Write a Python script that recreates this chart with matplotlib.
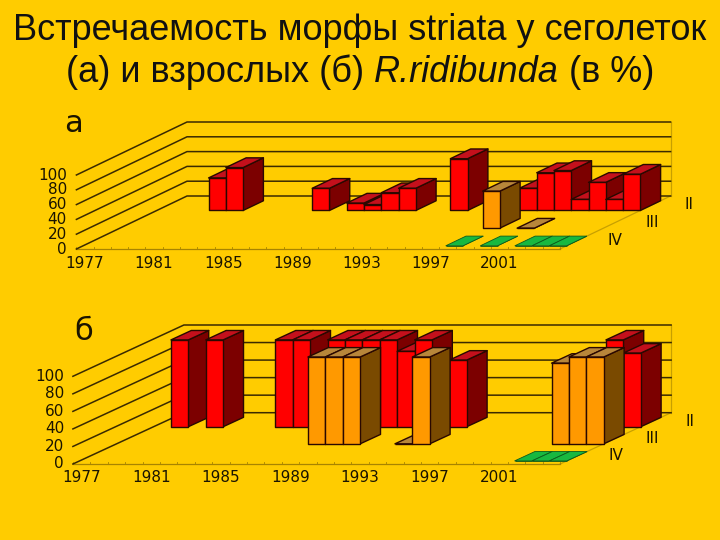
import matplotlib
matplotlib.use("Agg")
import matplotlib.pyplot as plt
from matplotlib.patches import Polygon

plt.rcParams['font.family'] = ['Liberation Sans', 'DejaVu Sans']

# categories
years = list(range(1977, 2005))
year_labels = ['1977', '1981', '1985', '1989', '1993', '1997', '2001']
value_ticks = [0, 20, 40, 60, 80, 100]
rows = ['IV', 'III', 'II']

# values as {position in years: percent}, 0 = flat bar
a_IV = {21: 0, 23: 0, 25: 0, 26: 0, 27: 0}
a_III = {21: 50, 23: 0}
a_II = {3: 44, 4: 58, 9: 30, 11: 10, 12: 8, 13: 24, 14: 30, 17: 70,
        21: 30, 22: 51, 23: 54, 24: 15, 25: 38, 26: 15, 27: 49}

b_IV = {25: 0, 26: 0, 27: 0}
b_III = {11: 99, 12: 99, 13: 99, 16: 0, 17: 99, 25: 92, 26: 99, 27: 99}
b_II = {1: 99, 3: 99, 7: 99, 8: 99, 10: 99, 11: 99, 12: 99, 13: 99, 14: 86,
        15: 99, 17: 76, 26: 99, 27: 84}

# front, top, side
colors = {
    'II': ('#ff0000', '#c4101c', '#7c0000'),
    'III': ('#ff9900', '#b8863a', '#7a4a00'),
    'IV': ('#22b83c', '#18b840', '#0f7a28'),
}

BG = '#ffcc00'
BAR_START = 0.18
BAR_DEPTH = 0.55
TICK_FONT = dict(family='DejaVu Sans', fontsize=11, color='#1a1400')


class Panel:
    def __init__(self, ox, oy, x_step, dx, dy, h100):
        self.ox, self.oy = ox, oy
        self.x_step = x_step
        self.dx, self.dy = dx, dy
        self.h100 = h100

    # x in categories, d in rows (0-3), v in percent
    def pt(self, x, d, v):
        px = self.ox + x * self.x_step + d / 3 * self.dx
        py = self.oy + d / 3 * self.dy - v / 100 * self.h100
        return px, py


def draw_bar(ax, p, i, row, v):
    front, top, side = colors[rows[row]]
    d0 = row + BAR_START
    d1 = d0 + BAR_DEPTH
    edge = dict(edgecolor='#2a0800', linewidth=1.0, joinstyle='round')
    if v == 0 and rows[row] == 'IV':
        edge = dict(edgecolor='#0c5a1c', linewidth=0.6)
    ax.add_patch(Polygon([p.pt(i + 1, d0, 0), p.pt(i + 1, d1, 0),
                          p.pt(i + 1, d1, v), p.pt(i + 1, d0, v)],
                         facecolor=side, **edge))
    ax.add_patch(Polygon([p.pt(i, d0, v), p.pt(i + 1, d0, v),
                          p.pt(i + 1, d1, v), p.pt(i, d1, v)],
                         facecolor=top, **edge))
    ax.add_patch(Polygon([p.pt(i, d0, 0), p.pt(i + 1, d0, 0),
                          p.pt(i + 1, d0, v), p.pt(i, d0, v)],
                         facecolor=front, **edge))


def draw_panel(ax, p, series, letter, letter_xy, xlab_y, ylab_x):
    n = len(years)
    wall = '#3a2a00'
    floor = '#c8a000'
    # floor edges and front axis, kept under the bars
    ax.plot(*zip(p.pt(n, 0, 0), p.pt(n, 3, 0)), color=floor, lw=0.9, zorder=0)
    ax.plot(*zip(p.pt(n, 3, 0), p.pt(n, 3, 100)), color=floor, lw=0.9, zorder=0)
    ax.plot(*zip(p.pt(0, 0, 0), p.pt(n, 0, 0)), color='#a88400', lw=0.9, zorder=0)
    for i in range(n + 1):
        x0, y0 = p.pt(i, 0, 0)
        ax.plot([x0, x0], [y0, y0 - 2], color='#a88400', lw=0.6, zorder=0)
    # wall grid
    for v in value_ticks:
        ax.plot(*zip(p.pt(0, 0, v), p.pt(0, 3, v), p.pt(n, 3, v)),
                color=wall, lw=1.1, zorder=0)
        x0, y0 = p.pt(0, 0, v)
        ax.text(ylab_x, y0, str(v), ha='right', va='center', **TICK_FONT)
    # year labels
    for lab in year_labels:
        i = years.index(int(lab))
        x0, _ = p.pt(i + 0.5, 0, 0)
        ax.text(x0, xlab_y, lab, ha='center', va='center', **TICK_FONT)
    # bars, back row first
    for row in [2, 1, 0]:
        vals = series[row]
        for i in sorted(vals):
            draw_bar(ax, p, i, row, vals[i])
    # row labels
    for row, name in enumerate(rows):
        x0, y0 = p.pt(n, row + 0.5, 0)
        ax.text(x0 + 37, y0, name, ha='center', va='center', **TICK_FONT)
    ax.text(letter_xy[0], letter_xy[1], letter, ha='center', va='center',
            family='DejaVu Sans', fontsize=22, color='#1a1400')


fig = plt.figure(figsize=(7.2, 5.4), dpi=100, facecolor=BG)
ax = fig.add_axes([0, 0, 1, 1])
ax.set_xlim(0, 720)
ax.set_ylim(540, 0)
ax.axis('off')

ax.text(360, 30, 'Встречаемость морфы striata у сеголеток', ha='center',
        va='center', fontsize=26, color='#111111')

# second title line has an italic part, so it is laid out piece by piece
title_parts = [('(а) и взрослых (б) ', 'normal'), ('R.ridibunda', 'italic'), (' (в %)', 'normal')]
renderer = fig.canvas.get_renderer()
pieces = []
for s, style in title_parts:
    # spaces at the ends are not measured, so pad with a dot and take it off
    t = ax.text(0, 72, s, va='center', ha='left', fontsize=26, style=style,
                color='#111111')
    probe = ax.text(0, 72, s + '.', fontsize=26, style=style)
    dot = ax.text(0, 72, '.', fontsize=26, style=style)
    w = probe.get_window_extent(renderer).width - dot.get_window_extent(renderer).width
    probe.remove()
    dot.remove()
    pieces.append((t, w))
x = 360 - sum(w for _, w in pieces) / 2
for t, w in pieces:
    t.set_x(x)
    x += w

panel_a = Panel(76.4, 249, 17.27, 110.6, -53, 74)
panel_b = Panel(72.9, 464, 17.4, 111, -51.3, 87.7)

draw_panel(ax, panel_a, [a_IV, a_III, a_II], 'а', (74, 123), 264, 67)
draw_panel(ax, panel_b, [b_IV, b_III, b_II], 'б', (84, 332), 478, 64)

fig.savefig('out.png', dpi=100, facecolor=BG)
